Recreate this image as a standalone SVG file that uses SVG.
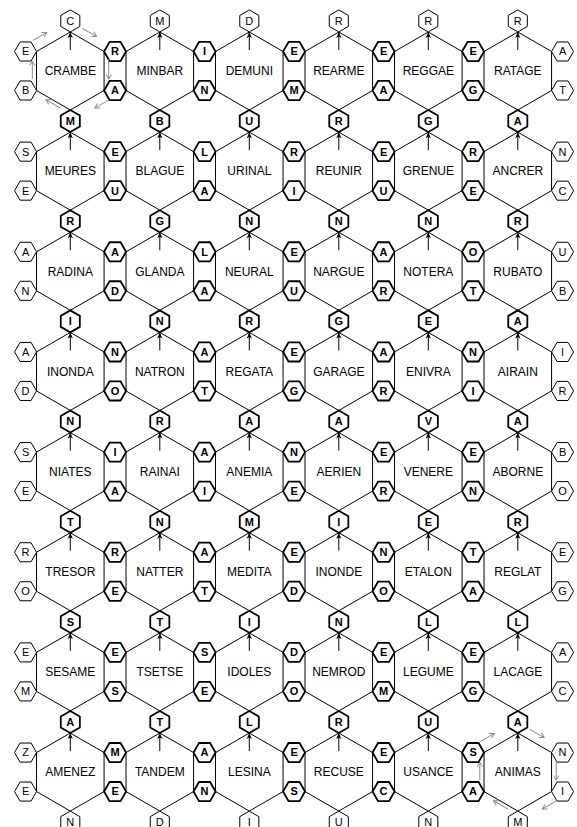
<svg xmlns="http://www.w3.org/2000/svg" width="577" height="827" viewBox="0 0 577 827">
<style>
.bh{fill:#fff;stroke:#000;stroke-width:1}
.sb{fill:#fff;stroke:#000;stroke-width:1}
.ss{fill:#fff;stroke:#000;stroke-width:1.8}
text{font-family:"Liberation Sans",Arial,sans-serif;text-anchor:middle;fill:#000}
.w{font-size:12px}
.lb{font-size:11px}
.ls{font-size:11px;font-weight:bold}
.ar{stroke:#000;stroke-width:1;fill:none;marker-end:url(#bah)}
.ga{stroke:#888;stroke-width:1;fill:none;marker-end:url(#gah)}
</style>
<defs>
<polygon id="bh" points="0,-39 33.775,-19.5 33.775,19.5 0,39 -33.775,19.5 -33.775,-19.5"/>
<polygon id="ph" points="0,-11 9.53,-5.5 9.53,5.5 0,11 -9.53,5.5 -9.53,-5.5"/>
<polygon id="fh" points="-11,0 -5.5,-9.53 5.5,-9.53 11,0 5.5,9.53 -5.5,9.53"/>
<marker id="bah" markerUnits="userSpaceOnUse" viewBox="-7 -4 8 8" markerWidth="8" markerHeight="8" refX="0" refY="0" orient="auto" overflow="visible"><path d="M-6,-2.6 L0,0 L-6,2.6 L-4.5,0 z" fill="#000"/></marker>
<marker id="gah" markerUnits="userSpaceOnUse" viewBox="-6 -4 8 8" markerWidth="8" markerHeight="8" refX="0" refY="0" orient="auto" overflow="visible"><path d="M-4.5,-2.6 L0,0 L-4.5,2.6" fill="none" stroke="#888" stroke-width="1"/></marker>
</defs>
<rect width="577" height="827" fill="#fff"/>
<g id="words">
<g id="w-CRAMBE" transform="translate(70.3 71)"><use href="#bh" class="bh"/><text class="w" y="4.3">CRAMBE</text></g>
<g id="w-MINBAR" transform="translate(159.8 71)"><use href="#bh" class="bh"/><text class="w" y="4.3">MINBAR</text></g>
<g id="w-DEMUNI" transform="translate(249.3 71)"><use href="#bh" class="bh"/><text class="w" y="4.3">DEMUNI</text></g>
<g id="w-REARME" transform="translate(338.8 71)"><use href="#bh" class="bh"/><text class="w" y="4.3">REARME</text></g>
<g id="w-REGGAE" transform="translate(428.3 71)"><use href="#bh" class="bh"/><text class="w" y="4.3">REGGAE</text></g>
<g id="w-RATAGE" transform="translate(517.8 71)"><use href="#bh" class="bh"/><text class="w" y="4.3">RATAGE</text></g>
<g id="w-MEURES" transform="translate(70.3 171.15)"><use href="#bh" class="bh"/><text class="w" y="4.3">MEURES</text></g>
<g id="w-BLAGUE" transform="translate(159.8 171.15)"><use href="#bh" class="bh"/><text class="w" y="4.3">BLAGUE</text></g>
<g id="w-URINAL" transform="translate(249.3 171.15)"><use href="#bh" class="bh"/><text class="w" y="4.3">URINAL</text></g>
<g id="w-REUNIR" transform="translate(338.8 171.15)"><use href="#bh" class="bh"/><text class="w" y="4.3">REUNIR</text></g>
<g id="w-GRENUE" transform="translate(428.3 171.15)"><use href="#bh" class="bh"/><text class="w" y="4.3">GRENUE</text></g>
<g id="w-ANCRER" transform="translate(517.8 171.15)"><use href="#bh" class="bh"/><text class="w" y="4.3">ANCRER</text></g>
<g id="w-RADINA" transform="translate(70.3 271.3)"><use href="#bh" class="bh"/><text class="w" y="4.3">RADINA</text></g>
<g id="w-GLANDA" transform="translate(159.8 271.3)"><use href="#bh" class="bh"/><text class="w" y="4.3">GLANDA</text></g>
<g id="w-NEURAL" transform="translate(249.3 271.3)"><use href="#bh" class="bh"/><text class="w" y="4.3">NEURAL</text></g>
<g id="w-NARGUE" transform="translate(338.8 271.3)"><use href="#bh" class="bh"/><text class="w" y="4.3">NARGUE</text></g>
<g id="w-NOTERA" transform="translate(428.3 271.3)"><use href="#bh" class="bh"/><text class="w" y="4.3">NOTERA</text></g>
<g id="w-RUBATO" transform="translate(517.8 271.3)"><use href="#bh" class="bh"/><text class="w" y="4.3">RUBATO</text></g>
<g id="w-INONDA" transform="translate(70.3 371.45)"><use href="#bh" class="bh"/><text class="w" y="4.3">INONDA</text></g>
<g id="w-NATRON" transform="translate(159.8 371.45)"><use href="#bh" class="bh"/><text class="w" y="4.3">NATRON</text></g>
<g id="w-REGATA" transform="translate(249.3 371.45)"><use href="#bh" class="bh"/><text class="w" y="4.3">REGATA</text></g>
<g id="w-GARAGE" transform="translate(338.8 371.45)"><use href="#bh" class="bh"/><text class="w" y="4.3">GARAGE</text></g>
<g id="w-ENIVRA" transform="translate(428.3 371.45)"><use href="#bh" class="bh"/><text class="w" y="4.3">ENIVRA</text></g>
<g id="w-AIRAIN" transform="translate(517.8 371.45)"><use href="#bh" class="bh"/><text class="w" y="4.3">AIRAIN</text></g>
<g id="w-NIATES" transform="translate(70.3 471.6)"><use href="#bh" class="bh"/><text class="w" y="4.3">NIATES</text></g>
<g id="w-RAINAI" transform="translate(159.8 471.6)"><use href="#bh" class="bh"/><text class="w" y="4.3">RAINAI</text></g>
<g id="w-ANEMIA" transform="translate(249.3 471.6)"><use href="#bh" class="bh"/><text class="w" y="4.3">ANEMIA</text></g>
<g id="w-AERIEN" transform="translate(338.8 471.6)"><use href="#bh" class="bh"/><text class="w" y="4.3">AERIEN</text></g>
<g id="w-VENERE" transform="translate(428.3 471.6)"><use href="#bh" class="bh"/><text class="w" y="4.3">VENERE</text></g>
<g id="w-ABORNE" transform="translate(517.8 471.6)"><use href="#bh" class="bh"/><text class="w" y="4.3">ABORNE</text></g>
<g id="w-TRESOR" transform="translate(70.3 571.75)"><use href="#bh" class="bh"/><text class="w" y="4.3">TRESOR</text></g>
<g id="w-NATTER" transform="translate(159.8 571.75)"><use href="#bh" class="bh"/><text class="w" y="4.3">NATTER</text></g>
<g id="w-MEDITA" transform="translate(249.3 571.75)"><use href="#bh" class="bh"/><text class="w" y="4.3">MEDITA</text></g>
<g id="w-INONDE" transform="translate(338.8 571.75)"><use href="#bh" class="bh"/><text class="w" y="4.3">INONDE</text></g>
<g id="w-ETALON" transform="translate(428.3 571.75)"><use href="#bh" class="bh"/><text class="w" y="4.3">ETALON</text></g>
<g id="w-REGLAT" transform="translate(517.8 571.75)"><use href="#bh" class="bh"/><text class="w" y="4.3">REGLAT</text></g>
<g id="w-SESAME" transform="translate(70.3 671.9)"><use href="#bh" class="bh"/><text class="w" y="4.3">SESAME</text></g>
<g id="w-TSETSE" transform="translate(159.8 671.9)"><use href="#bh" class="bh"/><text class="w" y="4.3">TSETSE</text></g>
<g id="w-IDOLES" transform="translate(249.3 671.9)"><use href="#bh" class="bh"/><text class="w" y="4.3">IDOLES</text></g>
<g id="w-NEMROD" transform="translate(338.8 671.9)"><use href="#bh" class="bh"/><text class="w" y="4.3">NEMROD</text></g>
<g id="w-LEGUME" transform="translate(428.3 671.9)"><use href="#bh" class="bh"/><text class="w" y="4.3">LEGUME</text></g>
<g id="w-LACAGE" transform="translate(517.8 671.9)"><use href="#bh" class="bh"/><text class="w" y="4.3">LACAGE</text></g>
<g id="w-AMENEZ" transform="translate(70.3 772.05)"><use href="#bh" class="bh"/><text class="w" y="4.3">AMENEZ</text></g>
<g id="w-TANDEM" transform="translate(159.8 772.05)"><use href="#bh" class="bh"/><text class="w" y="4.3">TANDEM</text></g>
<g id="w-LESINA" transform="translate(249.3 772.05)"><use href="#bh" class="bh"/><text class="w" y="4.3">LESINA</text></g>
<g id="w-RECUSE" transform="translate(338.8 772.05)"><use href="#bh" class="bh"/><text class="w" y="4.3">RECUSE</text></g>
<g id="w-USANCE" transform="translate(428.3 772.05)"><use href="#bh" class="bh"/><text class="w" y="4.3">USANCE</text></g>
<g id="w-ANIMAS" transform="translate(517.8 772.05)"><use href="#bh" class="bh"/><text class="w" y="4.3">ANIMAS</text></g>
</g>
<g id="connectors">
<line class="ar" x1="70.3" y1="50" x2="70.3" y2="32"/><line class="ar" x1="159.8" y1="50" x2="159.8" y2="32"/><line class="ar" x1="249.3" y1="50" x2="249.3" y2="32"/><line class="ar" x1="338.8" y1="50" x2="338.8" y2="32"/><line class="ar" x1="428.3" y1="50" x2="428.3" y2="32"/><line class="ar" x1="517.8" y1="50" x2="517.8" y2="32"/>
<line class="ar" x1="70.3" y1="150.15" x2="70.3" y2="132.15"/><line class="ar" x1="159.8" y1="150.15" x2="159.8" y2="132.15"/><line class="ar" x1="249.3" y1="150.15" x2="249.3" y2="132.15"/><line class="ar" x1="338.8" y1="150.15" x2="338.8" y2="132.15"/><line class="ar" x1="428.3" y1="150.15" x2="428.3" y2="132.15"/><line class="ar" x1="517.8" y1="150.15" x2="517.8" y2="132.15"/>
<line class="ar" x1="70.3" y1="250.3" x2="70.3" y2="232.3"/><line class="ar" x1="159.8" y1="250.3" x2="159.8" y2="232.3"/><line class="ar" x1="249.3" y1="250.3" x2="249.3" y2="232.3"/><line class="ar" x1="338.8" y1="250.3" x2="338.8" y2="232.3"/><line class="ar" x1="428.3" y1="250.3" x2="428.3" y2="232.3"/><line class="ar" x1="517.8" y1="250.3" x2="517.8" y2="232.3"/>
<line class="ar" x1="70.3" y1="350.45" x2="70.3" y2="332.45"/><line class="ar" x1="159.8" y1="350.45" x2="159.8" y2="332.45"/><line class="ar" x1="249.3" y1="350.45" x2="249.3" y2="332.45"/><line class="ar" x1="338.8" y1="350.45" x2="338.8" y2="332.45"/><line class="ar" x1="428.3" y1="350.45" x2="428.3" y2="332.45"/><line class="ar" x1="517.8" y1="350.45" x2="517.8" y2="332.45"/>
<line class="ar" x1="70.3" y1="450.6" x2="70.3" y2="432.6"/><line class="ar" x1="159.8" y1="450.6" x2="159.8" y2="432.6"/><line class="ar" x1="249.3" y1="450.6" x2="249.3" y2="432.6"/><line class="ar" x1="338.8" y1="450.6" x2="338.8" y2="432.6"/><line class="ar" x1="428.3" y1="450.6" x2="428.3" y2="432.6"/><line class="ar" x1="517.8" y1="450.6" x2="517.8" y2="432.6"/>
<line class="ar" x1="70.3" y1="550.75" x2="70.3" y2="532.75"/><line class="ar" x1="159.8" y1="550.75" x2="159.8" y2="532.75"/><line class="ar" x1="249.3" y1="550.75" x2="249.3" y2="532.75"/><line class="ar" x1="338.8" y1="550.75" x2="338.8" y2="532.75"/><line class="ar" x1="428.3" y1="550.75" x2="428.3" y2="532.75"/><line class="ar" x1="517.8" y1="550.75" x2="517.8" y2="532.75"/>
<line class="ar" x1="70.3" y1="650.9" x2="70.3" y2="632.9"/><line class="ar" x1="159.8" y1="650.9" x2="159.8" y2="632.9"/><line class="ar" x1="249.3" y1="650.9" x2="249.3" y2="632.9"/><line class="ar" x1="338.8" y1="650.9" x2="338.8" y2="632.9"/><line class="ar" x1="428.3" y1="650.9" x2="428.3" y2="632.9"/><line class="ar" x1="517.8" y1="650.9" x2="517.8" y2="632.9"/>
<line class="ar" x1="70.3" y1="751.05" x2="70.3" y2="733.05"/><line class="ar" x1="159.8" y1="751.05" x2="159.8" y2="733.05"/><line class="ar" x1="249.3" y1="751.05" x2="249.3" y2="733.05"/><line class="ar" x1="338.8" y1="751.05" x2="338.8" y2="733.05"/><line class="ar" x1="428.3" y1="751.05" x2="428.3" y2="733.05"/><line class="ar" x1="517.8" y1="751.05" x2="517.8" y2="733.05"/>
</g>
<g id="letters">
<g id="p0-0" transform="translate(70.3 20.925)"><use href="#ph" class="sb"/><text class="lb" y="3.9">C</text></g>
<g id="p0-1" transform="translate(159.8 20.925)"><use href="#ph" class="sb"/><text class="lb" y="3.9">M</text></g>
<g id="p0-2" transform="translate(249.3 20.925)"><use href="#ph" class="sb"/><text class="lb" y="3.9">D</text></g>
<g id="p0-3" transform="translate(338.8 20.925)"><use href="#ph" class="sb"/><text class="lb" y="3.9">R</text></g>
<g id="p0-4" transform="translate(428.3 20.925)"><use href="#ph" class="sb"/><text class="lb" y="3.9">R</text></g>
<g id="p0-5" transform="translate(517.8 20.925)"><use href="#ph" class="sb"/><text class="lb" y="3.9">R</text></g>
<g id="p1-0" transform="translate(70.3 121.075)"><use href="#ph" class="ss"/><text class="ls" y="3.9">M</text></g>
<g id="p1-1" transform="translate(159.8 121.075)"><use href="#ph" class="ss"/><text class="ls" y="3.9">B</text></g>
<g id="p1-2" transform="translate(249.3 121.075)"><use href="#ph" class="ss"/><text class="ls" y="3.9">U</text></g>
<g id="p1-3" transform="translate(338.8 121.075)"><use href="#ph" class="ss"/><text class="ls" y="3.9">R</text></g>
<g id="p1-4" transform="translate(428.3 121.075)"><use href="#ph" class="ss"/><text class="ls" y="3.9">G</text></g>
<g id="p1-5" transform="translate(517.8 121.075)"><use href="#ph" class="ss"/><text class="ls" y="3.9">A</text></g>
<g id="p2-0" transform="translate(70.3 221.225)"><use href="#ph" class="ss"/><text class="ls" y="3.9">R</text></g>
<g id="p2-1" transform="translate(159.8 221.225)"><use href="#ph" class="ss"/><text class="ls" y="3.9">G</text></g>
<g id="p2-2" transform="translate(249.3 221.225)"><use href="#ph" class="ss"/><text class="ls" y="3.9">N</text></g>
<g id="p2-3" transform="translate(338.8 221.225)"><use href="#ph" class="ss"/><text class="ls" y="3.9">N</text></g>
<g id="p2-4" transform="translate(428.3 221.225)"><use href="#ph" class="ss"/><text class="ls" y="3.9">N</text></g>
<g id="p2-5" transform="translate(517.8 221.225)"><use href="#ph" class="ss"/><text class="ls" y="3.9">R</text></g>
<g id="p3-0" transform="translate(70.3 321.375)"><use href="#ph" class="ss"/><text class="ls" y="3.9">I</text></g>
<g id="p3-1" transform="translate(159.8 321.375)"><use href="#ph" class="ss"/><text class="ls" y="3.9">N</text></g>
<g id="p3-2" transform="translate(249.3 321.375)"><use href="#ph" class="ss"/><text class="ls" y="3.9">R</text></g>
<g id="p3-3" transform="translate(338.8 321.375)"><use href="#ph" class="ss"/><text class="ls" y="3.9">G</text></g>
<g id="p3-4" transform="translate(428.3 321.375)"><use href="#ph" class="ss"/><text class="ls" y="3.9">E</text></g>
<g id="p3-5" transform="translate(517.8 321.375)"><use href="#ph" class="ss"/><text class="ls" y="3.9">A</text></g>
<g id="p4-0" transform="translate(70.3 421.525)"><use href="#ph" class="ss"/><text class="ls" y="3.9">N</text></g>
<g id="p4-1" transform="translate(159.8 421.525)"><use href="#ph" class="ss"/><text class="ls" y="3.9">R</text></g>
<g id="p4-2" transform="translate(249.3 421.525)"><use href="#ph" class="ss"/><text class="ls" y="3.9">A</text></g>
<g id="p4-3" transform="translate(338.8 421.525)"><use href="#ph" class="ss"/><text class="ls" y="3.9">A</text></g>
<g id="p4-4" transform="translate(428.3 421.525)"><use href="#ph" class="ss"/><text class="ls" y="3.9">V</text></g>
<g id="p4-5" transform="translate(517.8 421.525)"><use href="#ph" class="ss"/><text class="ls" y="3.9">A</text></g>
<g id="p5-0" transform="translate(70.3 521.675)"><use href="#ph" class="ss"/><text class="ls" y="3.9">T</text></g>
<g id="p5-1" transform="translate(159.8 521.675)"><use href="#ph" class="ss"/><text class="ls" y="3.9">N</text></g>
<g id="p5-2" transform="translate(249.3 521.675)"><use href="#ph" class="ss"/><text class="ls" y="3.9">M</text></g>
<g id="p5-3" transform="translate(338.8 521.675)"><use href="#ph" class="ss"/><text class="ls" y="3.9">I</text></g>
<g id="p5-4" transform="translate(428.3 521.675)"><use href="#ph" class="ss"/><text class="ls" y="3.9">E</text></g>
<g id="p5-5" transform="translate(517.8 521.675)"><use href="#ph" class="ss"/><text class="ls" y="3.9">R</text></g>
<g id="p6-0" transform="translate(70.3 621.825)"><use href="#ph" class="ss"/><text class="ls" y="3.9">S</text></g>
<g id="p6-1" transform="translate(159.8 621.825)"><use href="#ph" class="ss"/><text class="ls" y="3.9">T</text></g>
<g id="p6-2" transform="translate(249.3 621.825)"><use href="#ph" class="ss"/><text class="ls" y="3.9">I</text></g>
<g id="p6-3" transform="translate(338.8 621.825)"><use href="#ph" class="ss"/><text class="ls" y="3.9">N</text></g>
<g id="p6-4" transform="translate(428.3 621.825)"><use href="#ph" class="ss"/><text class="ls" y="3.9">L</text></g>
<g id="p6-5" transform="translate(517.8 621.825)"><use href="#ph" class="ss"/><text class="ls" y="3.9">L</text></g>
<g id="p7-0" transform="translate(70.3 721.975)"><use href="#ph" class="ss"/><text class="ls" y="3.9">A</text></g>
<g id="p7-1" transform="translate(159.8 721.975)"><use href="#ph" class="ss"/><text class="ls" y="3.9">T</text></g>
<g id="p7-2" transform="translate(249.3 721.975)"><use href="#ph" class="ss"/><text class="ls" y="3.9">L</text></g>
<g id="p7-3" transform="translate(338.8 721.975)"><use href="#ph" class="ss"/><text class="ls" y="3.9">R</text></g>
<g id="p7-4" transform="translate(428.3 721.975)"><use href="#ph" class="ss"/><text class="ls" y="3.9">U</text></g>
<g id="p7-5" transform="translate(517.8 721.975)"><use href="#ph" class="ss"/><text class="ls" y="3.9">A</text></g>
<g id="p8-0" transform="translate(70.3 822.125)"><use href="#ph" class="sb"/><text class="lb" y="3.9">N</text></g>
<g id="p8-1" transform="translate(159.8 822.125)"><use href="#ph" class="sb"/><text class="lb" y="3.9">D</text></g>
<g id="p8-2" transform="translate(249.3 822.125)"><use href="#ph" class="sb"/><text class="lb" y="3.9">I</text></g>
<g id="p8-3" transform="translate(338.8 822.125)"><use href="#ph" class="sb"/><text class="lb" y="3.9">U</text></g>
<g id="p8-4" transform="translate(428.3 822.125)"><use href="#ph" class="sb"/><text class="lb" y="3.9">N</text></g>
<g id="p8-5" transform="translate(517.8 822.125)"><use href="#ph" class="sb"/><text class="lb" y="3.9">M</text></g>

<g id="s0-0u" transform="translate(25.55 51.5)"><use href="#fh" class="sb"/><text class="lb" y="3.9">E</text></g>
<g id="s0-0l" transform="translate(25.55 90.5)"><use href="#fh" class="sb"/><text class="lb" y="3.9">B</text></g>
<g id="s0-1u" transform="translate(115.05 51.5)"><use href="#fh" class="ss"/><text class="ls" y="3.9">R</text></g>
<g id="s0-1l" transform="translate(115.05 90.5)"><use href="#fh" class="ss"/><text class="ls" y="3.9">A</text></g>
<g id="s0-2u" transform="translate(204.55 51.5)"><use href="#fh" class="ss"/><text class="ls" y="3.9">I</text></g>
<g id="s0-2l" transform="translate(204.55 90.5)"><use href="#fh" class="ss"/><text class="ls" y="3.9">N</text></g>
<g id="s0-3u" transform="translate(294.05 51.5)"><use href="#fh" class="ss"/><text class="ls" y="3.9">E</text></g>
<g id="s0-3l" transform="translate(294.05 90.5)"><use href="#fh" class="ss"/><text class="ls" y="3.9">M</text></g>
<g id="s0-4u" transform="translate(383.55 51.5)"><use href="#fh" class="ss"/><text class="ls" y="3.9">E</text></g>
<g id="s0-4l" transform="translate(383.55 90.5)"><use href="#fh" class="ss"/><text class="ls" y="3.9">A</text></g>
<g id="s0-5u" transform="translate(473.05 51.5)"><use href="#fh" class="ss"/><text class="ls" y="3.9">E</text></g>
<g id="s0-5l" transform="translate(473.05 90.5)"><use href="#fh" class="ss"/><text class="ls" y="3.9">G</text></g>
<g id="s0-6u" transform="translate(562.55 51.5)"><use href="#fh" class="sb"/><text class="lb" y="3.9">A</text></g>
<g id="s0-6l" transform="translate(562.55 90.5)"><use href="#fh" class="sb"/><text class="lb" y="3.9">T</text></g>

<g id="s1-0u" transform="translate(25.55 151.65)"><use href="#fh" class="sb"/><text class="lb" y="3.9">S</text></g>
<g id="s1-0l" transform="translate(25.55 190.65)"><use href="#fh" class="sb"/><text class="lb" y="3.9">E</text></g>
<g id="s1-1u" transform="translate(115.05 151.65)"><use href="#fh" class="ss"/><text class="ls" y="3.9">E</text></g>
<g id="s1-1l" transform="translate(115.05 190.65)"><use href="#fh" class="ss"/><text class="ls" y="3.9">U</text></g>
<g id="s1-2u" transform="translate(204.55 151.65)"><use href="#fh" class="ss"/><text class="ls" y="3.9">L</text></g>
<g id="s1-2l" transform="translate(204.55 190.65)"><use href="#fh" class="ss"/><text class="ls" y="3.9">A</text></g>
<g id="s1-3u" transform="translate(294.05 151.65)"><use href="#fh" class="ss"/><text class="ls" y="3.9">R</text></g>
<g id="s1-3l" transform="translate(294.05 190.65)"><use href="#fh" class="ss"/><text class="ls" y="3.9">I</text></g>
<g id="s1-4u" transform="translate(383.55 151.65)"><use href="#fh" class="ss"/><text class="ls" y="3.9">E</text></g>
<g id="s1-4l" transform="translate(383.55 190.65)"><use href="#fh" class="ss"/><text class="ls" y="3.9">U</text></g>
<g id="s1-5u" transform="translate(473.05 151.65)"><use href="#fh" class="ss"/><text class="ls" y="3.9">R</text></g>
<g id="s1-5l" transform="translate(473.05 190.65)"><use href="#fh" class="ss"/><text class="ls" y="3.9">E</text></g>
<g id="s1-6u" transform="translate(562.55 151.65)"><use href="#fh" class="sb"/><text class="lb" y="3.9">N</text></g>
<g id="s1-6l" transform="translate(562.55 190.65)"><use href="#fh" class="sb"/><text class="lb" y="3.9">C</text></g>

<g id="s2-0u" transform="translate(25.55 251.8)"><use href="#fh" class="sb"/><text class="lb" y="3.9">A</text></g>
<g id="s2-0l" transform="translate(25.55 290.8)"><use href="#fh" class="sb"/><text class="lb" y="3.9">N</text></g>
<g id="s2-1u" transform="translate(115.05 251.8)"><use href="#fh" class="ss"/><text class="ls" y="3.9">A</text></g>
<g id="s2-1l" transform="translate(115.05 290.8)"><use href="#fh" class="ss"/><text class="ls" y="3.9">D</text></g>
<g id="s2-2u" transform="translate(204.55 251.8)"><use href="#fh" class="ss"/><text class="ls" y="3.9">L</text></g>
<g id="s2-2l" transform="translate(204.55 290.8)"><use href="#fh" class="ss"/><text class="ls" y="3.9">A</text></g>
<g id="s2-3u" transform="translate(294.05 251.8)"><use href="#fh" class="ss"/><text class="ls" y="3.9">E</text></g>
<g id="s2-3l" transform="translate(294.05 290.8)"><use href="#fh" class="ss"/><text class="ls" y="3.9">U</text></g>
<g id="s2-4u" transform="translate(383.55 251.8)"><use href="#fh" class="ss"/><text class="ls" y="3.9">A</text></g>
<g id="s2-4l" transform="translate(383.55 290.8)"><use href="#fh" class="ss"/><text class="ls" y="3.9">R</text></g>
<g id="s2-5u" transform="translate(473.05 251.8)"><use href="#fh" class="ss"/><text class="ls" y="3.9">O</text></g>
<g id="s2-5l" transform="translate(473.05 290.8)"><use href="#fh" class="ss"/><text class="ls" y="3.9">T</text></g>
<g id="s2-6u" transform="translate(562.55 251.8)"><use href="#fh" class="sb"/><text class="lb" y="3.9">U</text></g>
<g id="s2-6l" transform="translate(562.55 290.8)"><use href="#fh" class="sb"/><text class="lb" y="3.9">B</text></g>

<g id="s3-0u" transform="translate(25.55 351.95)"><use href="#fh" class="sb"/><text class="lb" y="3.9">A</text></g>
<g id="s3-0l" transform="translate(25.55 390.95)"><use href="#fh" class="sb"/><text class="lb" y="3.9">D</text></g>
<g id="s3-1u" transform="translate(115.05 351.95)"><use href="#fh" class="ss"/><text class="ls" y="3.9">N</text></g>
<g id="s3-1l" transform="translate(115.05 390.95)"><use href="#fh" class="ss"/><text class="ls" y="3.9">O</text></g>
<g id="s3-2u" transform="translate(204.55 351.95)"><use href="#fh" class="ss"/><text class="ls" y="3.9">A</text></g>
<g id="s3-2l" transform="translate(204.55 390.95)"><use href="#fh" class="ss"/><text class="ls" y="3.9">T</text></g>
<g id="s3-3u" transform="translate(294.05 351.95)"><use href="#fh" class="ss"/><text class="ls" y="3.9">E</text></g>
<g id="s3-3l" transform="translate(294.05 390.95)"><use href="#fh" class="ss"/><text class="ls" y="3.9">G</text></g>
<g id="s3-4u" transform="translate(383.55 351.95)"><use href="#fh" class="ss"/><text class="ls" y="3.9">A</text></g>
<g id="s3-4l" transform="translate(383.55 390.95)"><use href="#fh" class="ss"/><text class="ls" y="3.9">R</text></g>
<g id="s3-5u" transform="translate(473.05 351.95)"><use href="#fh" class="ss"/><text class="ls" y="3.9">N</text></g>
<g id="s3-5l" transform="translate(473.05 390.95)"><use href="#fh" class="ss"/><text class="ls" y="3.9">I</text></g>
<g id="s3-6u" transform="translate(562.55 351.95)"><use href="#fh" class="sb"/><text class="lb" y="3.9">I</text></g>
<g id="s3-6l" transform="translate(562.55 390.95)"><use href="#fh" class="sb"/><text class="lb" y="3.9">R</text></g>

<g id="s4-0u" transform="translate(25.55 452.1)"><use href="#fh" class="sb"/><text class="lb" y="3.9">S</text></g>
<g id="s4-0l" transform="translate(25.55 491.1)"><use href="#fh" class="sb"/><text class="lb" y="3.9">E</text></g>
<g id="s4-1u" transform="translate(115.05 452.1)"><use href="#fh" class="ss"/><text class="ls" y="3.9">I</text></g>
<g id="s4-1l" transform="translate(115.05 491.1)"><use href="#fh" class="ss"/><text class="ls" y="3.9">A</text></g>
<g id="s4-2u" transform="translate(204.55 452.1)"><use href="#fh" class="ss"/><text class="ls" y="3.9">A</text></g>
<g id="s4-2l" transform="translate(204.55 491.1)"><use href="#fh" class="ss"/><text class="ls" y="3.9">I</text></g>
<g id="s4-3u" transform="translate(294.05 452.1)"><use href="#fh" class="ss"/><text class="ls" y="3.9">N</text></g>
<g id="s4-3l" transform="translate(294.05 491.1)"><use href="#fh" class="ss"/><text class="ls" y="3.9">E</text></g>
<g id="s4-4u" transform="translate(383.55 452.1)"><use href="#fh" class="ss"/><text class="ls" y="3.9">E</text></g>
<g id="s4-4l" transform="translate(383.55 491.1)"><use href="#fh" class="ss"/><text class="ls" y="3.9">R</text></g>
<g id="s4-5u" transform="translate(473.05 452.1)"><use href="#fh" class="ss"/><text class="ls" y="3.9">E</text></g>
<g id="s4-5l" transform="translate(473.05 491.1)"><use href="#fh" class="ss"/><text class="ls" y="3.9">N</text></g>
<g id="s4-6u" transform="translate(562.55 452.1)"><use href="#fh" class="sb"/><text class="lb" y="3.9">B</text></g>
<g id="s4-6l" transform="translate(562.55 491.1)"><use href="#fh" class="sb"/><text class="lb" y="3.9">O</text></g>

<g id="s5-0u" transform="translate(25.55 552.25)"><use href="#fh" class="sb"/><text class="lb" y="3.9">R</text></g>
<g id="s5-0l" transform="translate(25.55 591.25)"><use href="#fh" class="sb"/><text class="lb" y="3.9">O</text></g>
<g id="s5-1u" transform="translate(115.05 552.25)"><use href="#fh" class="ss"/><text class="ls" y="3.9">R</text></g>
<g id="s5-1l" transform="translate(115.05 591.25)"><use href="#fh" class="ss"/><text class="ls" y="3.9">E</text></g>
<g id="s5-2u" transform="translate(204.55 552.25)"><use href="#fh" class="ss"/><text class="ls" y="3.9">A</text></g>
<g id="s5-2l" transform="translate(204.55 591.25)"><use href="#fh" class="ss"/><text class="ls" y="3.9">T</text></g>
<g id="s5-3u" transform="translate(294.05 552.25)"><use href="#fh" class="ss"/><text class="ls" y="3.9">E</text></g>
<g id="s5-3l" transform="translate(294.05 591.25)"><use href="#fh" class="ss"/><text class="ls" y="3.9">D</text></g>
<g id="s5-4u" transform="translate(383.55 552.25)"><use href="#fh" class="ss"/><text class="ls" y="3.9">N</text></g>
<g id="s5-4l" transform="translate(383.55 591.25)"><use href="#fh" class="ss"/><text class="ls" y="3.9">O</text></g>
<g id="s5-5u" transform="translate(473.05 552.25)"><use href="#fh" class="ss"/><text class="ls" y="3.9">T</text></g>
<g id="s5-5l" transform="translate(473.05 591.25)"><use href="#fh" class="ss"/><text class="ls" y="3.9">A</text></g>
<g id="s5-6u" transform="translate(562.55 552.25)"><use href="#fh" class="sb"/><text class="lb" y="3.9">E</text></g>
<g id="s5-6l" transform="translate(562.55 591.25)"><use href="#fh" class="sb"/><text class="lb" y="3.9">G</text></g>

<g id="s6-0u" transform="translate(25.55 652.4)"><use href="#fh" class="sb"/><text class="lb" y="3.9">E</text></g>
<g id="s6-0l" transform="translate(25.55 691.4)"><use href="#fh" class="sb"/><text class="lb" y="3.9">M</text></g>
<g id="s6-1u" transform="translate(115.05 652.4)"><use href="#fh" class="ss"/><text class="ls" y="3.9">E</text></g>
<g id="s6-1l" transform="translate(115.05 691.4)"><use href="#fh" class="ss"/><text class="ls" y="3.9">S</text></g>
<g id="s6-2u" transform="translate(204.55 652.4)"><use href="#fh" class="ss"/><text class="ls" y="3.9">S</text></g>
<g id="s6-2l" transform="translate(204.55 691.4)"><use href="#fh" class="ss"/><text class="ls" y="3.9">E</text></g>
<g id="s6-3u" transform="translate(294.05 652.4)"><use href="#fh" class="ss"/><text class="ls" y="3.9">D</text></g>
<g id="s6-3l" transform="translate(294.05 691.4)"><use href="#fh" class="ss"/><text class="ls" y="3.9">O</text></g>
<g id="s6-4u" transform="translate(383.55 652.4)"><use href="#fh" class="ss"/><text class="ls" y="3.9">E</text></g>
<g id="s6-4l" transform="translate(383.55 691.4)"><use href="#fh" class="ss"/><text class="ls" y="3.9">M</text></g>
<g id="s6-5u" transform="translate(473.05 652.4)"><use href="#fh" class="ss"/><text class="ls" y="3.9">E</text></g>
<g id="s6-5l" transform="translate(473.05 691.4)"><use href="#fh" class="ss"/><text class="ls" y="3.9">G</text></g>
<g id="s6-6u" transform="translate(562.55 652.4)"><use href="#fh" class="sb"/><text class="lb" y="3.9">A</text></g>
<g id="s6-6l" transform="translate(562.55 691.4)"><use href="#fh" class="sb"/><text class="lb" y="3.9">C</text></g>

<g id="s7-0u" transform="translate(25.55 752.55)"><use href="#fh" class="sb"/><text class="lb" y="3.9">Z</text></g>
<g id="s7-0l" transform="translate(25.55 791.55)"><use href="#fh" class="sb"/><text class="lb" y="3.9">E</text></g>
<g id="s7-1u" transform="translate(115.05 752.55)"><use href="#fh" class="ss"/><text class="ls" y="3.9">M</text></g>
<g id="s7-1l" transform="translate(115.05 791.55)"><use href="#fh" class="ss"/><text class="ls" y="3.9">E</text></g>
<g id="s7-2u" transform="translate(204.55 752.55)"><use href="#fh" class="ss"/><text class="ls" y="3.9">A</text></g>
<g id="s7-2l" transform="translate(204.55 791.55)"><use href="#fh" class="ss"/><text class="ls" y="3.9">N</text></g>
<g id="s7-3u" transform="translate(294.05 752.55)"><use href="#fh" class="ss"/><text class="ls" y="3.9">E</text></g>
<g id="s7-3l" transform="translate(294.05 791.55)"><use href="#fh" class="ss"/><text class="ls" y="3.9">S</text></g>
<g id="s7-4u" transform="translate(383.55 752.55)"><use href="#fh" class="ss"/><text class="ls" y="3.9">E</text></g>
<g id="s7-4l" transform="translate(383.55 791.55)"><use href="#fh" class="ss"/><text class="ls" y="3.9">C</text></g>
<g id="s7-5u" transform="translate(473.05 752.55)"><use href="#fh" class="ss"/><text class="ls" y="3.9">S</text></g>
<g id="s7-5l" transform="translate(473.05 791.55)"><use href="#fh" class="ss"/><text class="ls" y="3.9">A</text></g>
<g id="s7-6u" transform="translate(562.55 752.55)"><use href="#fh" class="sb"/><text class="lb" y="3.9">N</text></g>
<g id="s7-6l" transform="translate(562.55 791.55)"><use href="#fh" class="sb"/><text class="lb" y="3.9">I</text></g>
</g>
<g id="reading-order">
<line class="ga" x1="82.3" y1="28.3" x2="96.6" y2="36.55"/>
<line class="ga" x1="108.7" y1="59" x2="108.7" y2="79"/>
<line class="ga" x1="108.8" y1="100" x2="94.9" y2="108"/>
<line class="ga" x1="60.3" y1="108" x2="46" y2="99.75"/>
<line class="ga" x1="32.3" y1="79" x2="32.3" y2="61"/>
<line class="ga" x1="32.8" y1="40.5" x2="46.7" y2="32.5"/>
<line class="ga" x1="529.8" y1="729.35" x2="544.1" y2="737.6"/>
<line class="ga" x1="556.2" y1="760.05" x2="556.2" y2="780.05"/>
<line class="ga" x1="556.3" y1="801.05" x2="542.4" y2="809.05"/>
<line class="ga" x1="507.8" y1="809.05" x2="493.5" y2="800.8"/>
<line class="ga" x1="479.8" y1="780.05" x2="479.8" y2="762.05"/>
<line class="ga" x1="480.3" y1="741.55" x2="494.2" y2="733.55"/>
</g>
</svg>
